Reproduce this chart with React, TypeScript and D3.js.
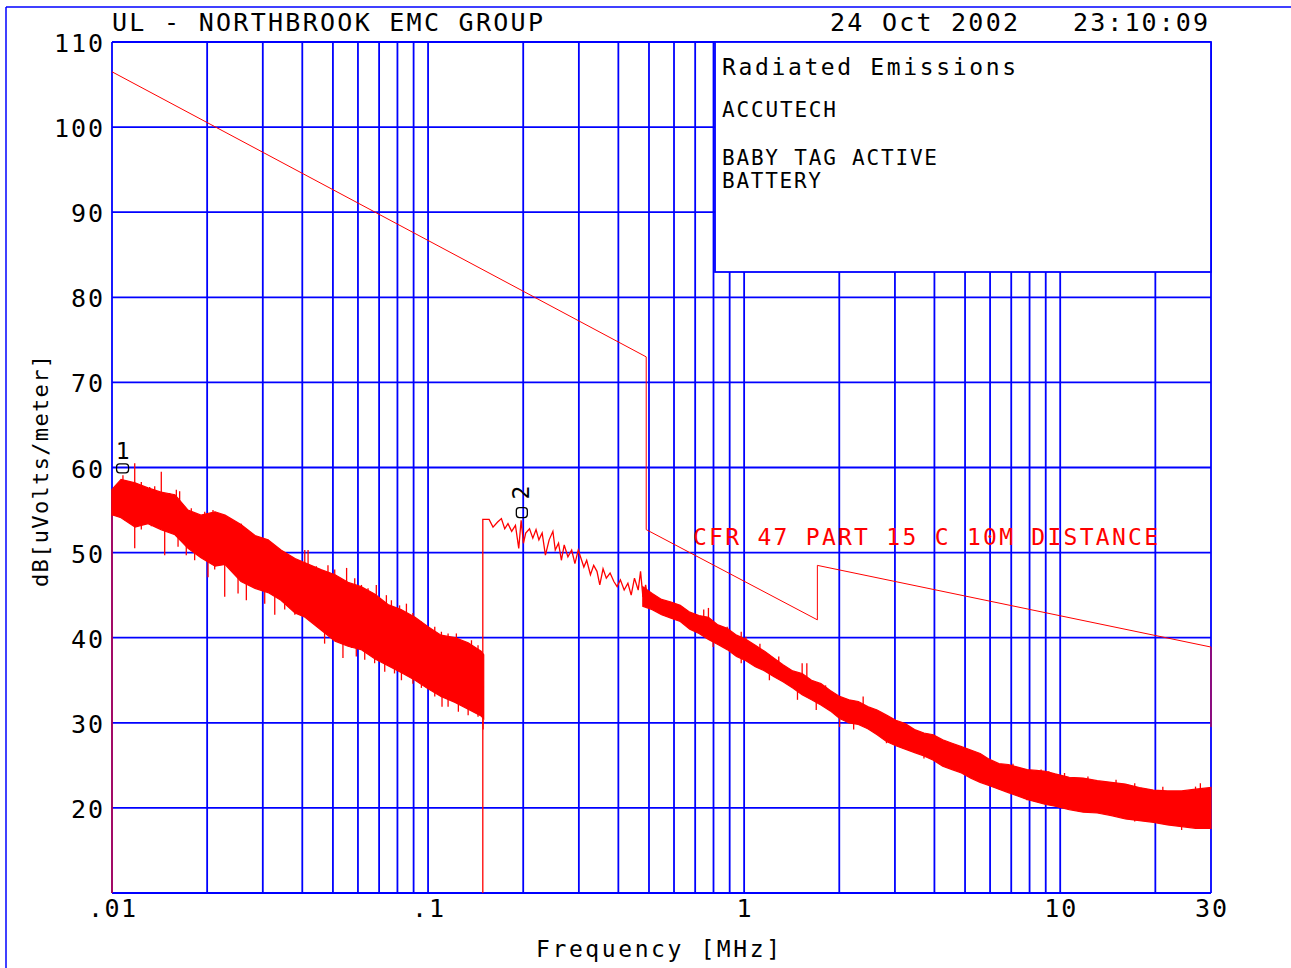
import React from 'react';
import * as d3 from 'd3';

const W = 1291;
const H = 968;

// ---- axes ----
const xGridFreqs = [
  0.01, 0.02, 0.03, 0.04, 0.05, 0.06, 0.07, 0.08, 0.09,
  0.1, 0.2, 0.3, 0.4, 0.5, 0.6, 0.7, 0.8, 0.9,
  1, 2, 3, 4, 5, 6, 7, 8, 9,
  10, 20, 30,
];
const xTickValues = [0.01, 0.1, 1, 10, 30];
const xTickLabels = ['.01', '.1', '1', '10', '30'];
const yGridValues = [10, 20, 30, 40, 50, 60, 70, 80, 90, 100, 110];
const yTickValues = [20, 30, 40, 50, 60, 70, 80, 90, 100, 110];

// ---- limit line: CFR 47 PART 15 C 10M DISTANCE ----
const limitFreq = [0.01, 0.49, 0.49, 1.705, 1.705, 30, 30];
const limitDb = [106.5, 73.0, 52.7, 42.1, 48.5, 38.9, 29.5];

// ---- sweep 1 (0.01 - 0.15 MHz), envelope of the noisy trace ----
const sweepFloorDb = 10;
const seg1Freq = [
  0.01, 0.0101, 0.01068, 0.01183, 0.013, 0.01429, 0.01582, 0.0174, 0.01912,
  0.02118, 0.02279, 0.02559, 0.02835, 0.03117, 0.03425, 0.03794, 0.04081,
  0.04585, 0.05079, 0.05582, 0.06137, 0.06797, 0.0747, 0.08215, 0.09097,
  0.1, 0.1099, 0.1217, 0.1339, 0.1472, 0.15,
];
const seg1Top = [
  57.4, 57.6, 58.6, 58.2, 57.6, 57.1, 56.8, 55.0, 54.4,
  54.8, 54.4, 53.3, 52.0, 51.5, 50.3, 49.3, 48.8,
  48.0, 47.4, 46.5, 46.0, 45.1, 43.9, 43.3, 42.4,
  41.3, 40.3, 40.0, 39.4, 38.4, 38.0,
];
const seg1Bot = [
  54.4, 54.4, 54.1, 53.0, 53.4, 52.7, 52.1, 50.5, 49.4,
  48.4, 48.6, 46.6, 45.8, 45.3, 44.4, 42.9, 42.4,
  40.9, 39.6, 39.0, 38.6, 37.5, 36.7, 35.9, 35.0,
  34.0, 33.1, 32.4, 31.6, 30.8, 30.5,
];

// ---- sweep 2 (0.15 - 30 MHz), sparse low-frequency part as a line ----
const seg2LineFreq = [
  0.149, 0.149, 0.156, 0.1605, 0.166, 0.1706, 0.1748, 0.179, 0.1839, 0.189,
  0.1936, 0.197, 0.2003, 0.2037, 0.2094, 0.2145, 0.2196, 0.2242, 0.2296,
  0.2351, 0.2416, 0.2483, 0.2526, 0.2587, 0.2641, 0.2696, 0.277, 0.2847,
  0.2915, 0.2986, 0.3048, 0.3111, 0.3176, 0.3264, 0.3342, 0.3423, 0.3494,
  0.3578, 0.3664, 0.3766, 0.3871, 0.3964, 0.406, 0.4173, 0.4288, 0.4392,
  0.4498, 0.4622, 0.4702, 0.4783, 0.488, 0.497,
];
const seg2LineDb = [
  10, 53.9, 53.9, 53.0, 53.6, 54.0, 52.8, 53.4, 52.5, 53.2,
  50.5, 53.8, 51.1, 52.3, 52.8, 51.7, 52.7, 51.5, 52.3,
  49.7, 51.5, 52.5, 50.3, 51.1, 49.1, 50.9, 49.5, 50.3,
  48.7, 50.3, 49.3, 48.3, 49.1, 47.4, 48.5, 47.8, 46.2,
  48.1, 47.0, 47.6, 46.6, 46.0, 46.8, 45.6, 46.4, 45.0,
  47.0, 45.6, 47.8, 44.8, 46.2, 44.2,
];

// ---- sweep 2 dense part, envelope ----
const seg2Freq = [
  0.478, 0.512, 0.548, 0.587, 0.628, 0.673, 0.72, 0.771, 0.826,
  0.884, 0.946, 1.013, 1.085, 1.161, 1.243, 1.331, 1.425, 1.526, 1.634,
  1.75, 1.873, 2.005, 2.147, 2.298, 2.461, 2.635, 2.821, 3.02, 3.233,
  3.462, 3.707, 3.969, 4.249, 4.549, 4.87, 5.214, 5.582, 5.976, 6.399,
  6.85, 7.334, 7.852, 8.407, 9.0, 9.636, 10.68, 11.83, 13.1, 14.52,
  16.08, 17.81, 19.73, 21.86, 24.22, 26.83, 30,
];
const seg2Top = [
  46.0, 45.2, 44.5, 44.2, 43.8, 43.0, 42.6, 42.4, 41.5,
  41.1, 40.3, 39.8, 39.1, 38.4, 37.6, 36.8, 36.1, 35.8, 35.0,
  34.6, 33.8, 33.1, 32.7, 32.5, 31.9, 31.5, 30.9, 30.3, 29.9,
  29.2, 28.8, 28.6, 28.0, 27.6, 27.2, 26.8, 26.4, 25.7, 25.2,
  25.1, 24.8, 24.5, 24.4, 24.3, 24.0, 23.6, 23.5, 23.2, 23.0,
  22.8, 22.4, 22.1, 22.0, 22.0, 22.2, 22.4,
];
const seg2Bot = [
  43.7, 43.3, 42.7, 42.3, 41.9, 41.0, 40.5, 39.8, 39.2,
  38.6, 37.8, 37.3, 36.6, 36.1, 35.4, 34.8, 34.1, 33.3, 32.7,
  32.1, 31.4, 30.5, 30.0, 29.8, 29.3, 28.6, 27.8, 27.3, 26.9,
  26.5, 26.1, 25.6, 24.9, 24.5, 24.1, 23.5, 23.0, 22.6, 22.2,
  21.8, 21.4, 21.0, 20.7, 20.4, 20.2, 19.8, 19.5, 19.4, 19.1,
  18.7, 18.5, 18.3, 18.0, 17.8, 17.6, 17.6,
];

// ---- isolated noise spikes ----
const upSpikeFreq = [
  0.01083, 0.0118, 0.01238, 0.01316, 0.01365, 0.01432, 0.01522, 0.01598,
  0.01637, 0.01782, 0.01872, 0.01965, 0.02087, 0.02165, 0.02273, 0.02415,
  0.02566, 0.0263, 0.02828, 0.02967, 0.03117, 0.03435, 0.0365, 0.04073,
  0.04172, 0.04432, 0.04823, 0.05066, 0.05524, 0.05861, 0.06155, 0.06458,
  0.06859, 0.07381, 0.07656, 0.08126, 0.08541, 0.08953, 0.09526, 0.105,
  0.1102, 0.1157, 0.1229, 0.1306, 0.1372, 0.1439,
  0.65, 0.745, 0.771, 0.884, 0.979, 1.013, 1.122, 1.287, 1.401, 1.526,
  1.579, 1.81, 2.075, 2.38, 2.635, 2.919, 3.346, 3.84, 4.395, 5.214, 5.9,
  7.088, 8.7, 9.2, 10.32, 12.24, 15.02, 17.21, 21.12, 26.8, 27.76,
];
const upSpikeDb = [
  59.1, 60.5, 58.3, 57.7, 57.8, 59.5, 57.0, 57.4,
  57.2, 55.2, 54.4, 54.8, 55.0, 54.6, 54.4, 52.7,
  53.4, 52.9, 51.5, 51.5, 51.5, 50.1, 49.5, 50.3,
  50.3, 48.4, 48.5, 48.0, 48.2, 47.0, 46.2, 45.8,
  46.2, 45.0, 44.4, 43.8, 44.0, 42.9, 41.9, 41.3,
  40.7, 40.5, 40.5, 39.3, 39.7, 39.1,
  42.5, 43.3, 43.5, 41.3, 40.7, 40.1, 39.3, 37.8, 36.2, 37.0,
  37.0, 34.4, 32.7, 33.1, 31.1, 30.5, 29.2, 28.6, 27.6, 26.8, 25.4,
  25.2, 24.5, 24.3, 24.1, 23.7, 23.3, 22.9, 22.5, 22.5, 22.9,
];
const lowSpikeFreq = [
  0.01019, 0.01097, 0.0118, 0.01238, 0.01332, 0.01468, 0.01618, 0.01718,
  0.01826, 0.02013, 0.02113, 0.02273, 0.02505, 0.02661, 0.02828, 0.03042,
  0.03273, 0.03519, 0.03789, 0.03974, 0.04379, 0.04706, 0.05066, 0.05379,
  0.05722, 0.05928, 0.06304, 0.06775, 0.07293, 0.07831, 0.08236, 0.08953,
  0.09526, 0.105, 0.1107, 0.1157, 0.1247, 0.1339, 0.1439, 0.1493,
  0.798, 0.979, 1.202, 1.475, 1.691, 2.005, 2.221, 2.821, 3.707, 5.395,
  7.852, 11.43, 17.21, 24.22,
];
const lowSpikeDb = [
  54.4, 53.8, 50.5, 52.7, 53.1, 49.7, 50.7, 49.7,
  49.1, 47.1, 48.0, 44.8, 45.2, 44.4, 46.4, 44.0,
  42.7, 43.3, 42.7, 43.8, 41.7, 39.3, 39.7, 37.6,
  38.8, 37.8, 37.4, 37.0, 36.0, 35.8, 35.0, 34.6,
  34.1, 33.1, 31.9, 31.9, 31.3, 30.9, 30.7, 29.2,
  38.9, 37.0, 35.0, 32.7, 31.5, 29.5, 29.2, 27.6, 25.8, 23.3,
  20.9, 19.6, 18.4, 17.4,
];

// ---- markers ----
const markerLabels = ['1', '2'];
const markerFreq = [0.0108, 0.198];
const markerDb = [59.9, 54.7];

const FONT = "'DejaVu Sans Mono', 'Liberation Mono', monospace";
const BLUE = '#0000ff';
const RED = '#ff0000';

export default function App() {
  const x = d3.scaleLog().domain([0.01, 30]).range([112, 1211]);
  const y = d3.scaleLinear().domain([10, 110]).range([893, 42]);

  const limitPath = d3.line<number>()
    .x((_, i) => x(limitFreq[i]))
    .y((d) => y(d))(limitDb) as string;

  const band = (fr: number[], top: number[], bot: number[]) =>
    d3.area<number>()
      .x((_, i) => x(fr[i]))
      .y0((_, i) => y(bot[i]))
      .y1((d) => y(d))(top) as string;
  const edge = (fr: number[], vals: number[]) =>
    d3.line<number>().x((_, i) => x(fr[i])).y((d) => y(d))(vals) as string;

  const seg1Mid = seg1Top.map((t, i) => (t + seg1Bot[i]) / 2);
  const seg2Mid = seg2Top.map((t, i) => (t + seg2Bot[i]) / 2);
  const mid1 = d3.scaleLog().domain(seg1Freq).range(seg1Mid).clamp(true);
  const mid2 = d3.scaleLog().domain(seg2Freq).range(seg2Mid).clamp(true);
  const midLine = d3.scaleLog().domain(seg2LineFreq.slice(1)).range(seg2LineDb.slice(1)).clamp(true);
  const mid = (f: number) => (f <= 0.15 ? mid1(f) : f < 0.478 ? midLine(f) : mid2(f));

  const m1x = x(markerFreq[0]);
  const m1y = y(markerDb[0]);
  const m2x = x(markerFreq[1]);
  const m2y = y(markerDb[1]);

  return (
    <svg width={W} height={H} style={{ position: 'absolute', left: 0, top: 0, background: '#fff' }}
      xmlns="http://www.w3.org/2000/svg">
      <rect x={0} y={0} width={W} height={H} fill="#fff" />
      {/* outer frame */}
      <line x1={6} y1={7} x2={W} y2={7} stroke={BLUE} strokeWidth={1.5} />
      <line x1={6} y1={7} x2={6} y2={H} stroke={BLUE} strokeWidth={1.5} />

      {/* grid */}
      <g stroke={BLUE} strokeWidth={1.8}>
        {xGridFreqs.map((f) => (
          <line key={'gx' + f} x1={x(f)} x2={x(f)} y1={y(10)} y2={y(110)} />
        ))}
        {yGridValues.map((v) => (
          <line key={'gy' + v} x1={x(0.01)} x2={x(30)} y1={y(v)} y2={y(v)} />
        ))}
      </g>

      {/* info box */}
      <rect x={715} y={y(110)} width={x(30) - 715} height={272 - y(110)}
        fill="#fff" stroke={BLUE} strokeWidth={1.8} />

      {/* measured sweeps */}
      <g fill={RED} stroke={RED} strokeWidth={1.2}>
        <line x1={x(seg1Freq[0])} x2={x(seg1Freq[0])} y1={y(sweepFloorDb)} y2={y(seg1Top[0])} />
        <path d={band(seg1Freq, seg1Top, seg1Bot)} />
        <path d={band(seg2Freq, seg2Top, seg2Bot)} />
      </g>
      <g fill="none" stroke={RED} strokeWidth={1.3}>
        <path d={edge(seg2LineFreq, seg2LineDb)} />
        {upSpikeFreq.map((f, i) => (
          <line key={'us' + i} x1={x(f)} x2={x(f)} y1={y(mid(f))} y2={y(upSpikeDb[i])} />
        ))}
        {lowSpikeFreq.map((f, i) => (
          <line key={'ls' + i} x1={x(f)} x2={x(f)} y1={y(mid(f))} y2={y(lowSpikeDb[i])} />
        ))}
      </g>

      {/* limit line */}
      <path d={limitPath} fill="none" stroke={RED} strokeWidth={1} />
      <text x={693} y={545} fill={RED} fontFamily={FONT} fontSize={23}
        textLength={465} lengthAdjust="spacing">CFR 47 PART 15 C 10M DISTANCE</text>

      {/* markers */}
      <rect x={m1x - 6} y={m1y - 4.5} width={12} height={9} rx={3}
        fill="none" stroke="#000" strokeWidth={1.3} />
      <text x={m1x} y={m1y - 9} textAnchor="middle" fontFamily={FONT} fontSize={23}>{markerLabels[0]}</text>
      <rect x={m2x - 5.5} y={m2y - 5} width={11} height={10} rx={3}
        fill="none" stroke="#000" strokeWidth={1.3} />
      <text transform={`translate(${m2x + 7},${m2y - 20}) rotate(-90)`}
        textAnchor="middle" fontFamily={FONT} fontSize={23}>{markerLabels[1]}</text>

      {/* texts */}
      <g fontFamily={FONT} fill="#000">
        <text x={112} y={31} fontSize={25} textLength={431} lengthAdjust="spacing">UL - NORTHBROOK EMC GROUP</text>
        <text x={830} y={31} fontSize={25} textLength={188} lengthAdjust="spacing">24 Oct 2002</text>
        <text x={1073} y={31} fontSize={25} textLength={135} lengthAdjust="spacing">23:10:09</text>

        <text x={722} y={75} fontSize={23} textLength={294} lengthAdjust="spacing">Radiated Emissions</text>
        <text x={722} y={117} fontSize={21} textLength={114} lengthAdjust="spacing">ACCUTECH</text>
        <text x={722} y={165} fontSize={21} textLength={215} lengthAdjust="spacing">BABY TAG ACTIVE</text>
        <text x={722} y={188} fontSize={21} textLength={99} lengthAdjust="spacing">BATTERY</text>

        {yTickValues.map((v) => (
          <text key={'yt' + v} x={103} y={y(v) + 10} fontSize={25} textAnchor="end"
            textLength={String(v).length * 17 - 2} lengthAdjust="spacing">{String(v)}</text>
        ))}
        {xTickValues.map((f, i) => (
          <text key={'xt' + f} x={x(f)} y={917} fontSize={25} textAnchor="middle"
            textLength={xTickLabels[i].length * 16} lengthAdjust="spacing">{xTickLabels[i]}</text>
        ))}
        <text x={658} y={957} fontSize={23} textAnchor="middle" textLength={244} lengthAdjust="spacing">Frequency [MHz]</text>
        <text transform="translate(48,471) rotate(-90)" fontSize={22} textAnchor="middle"
          textLength={232} lengthAdjust="spacing">dB[uVolts/meter]</text>
      </g>
    </svg>
  );
}
